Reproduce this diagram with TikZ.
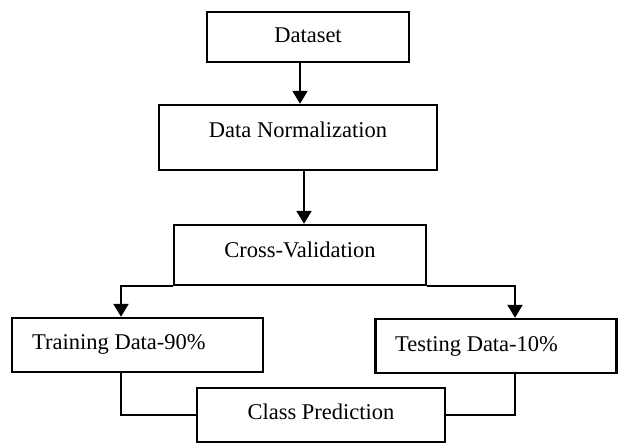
\documentclass[tikz,border=0pt]{standalone}
\usepackage{fontspec}
\setmainfont{Liberation Serif}
\usetikzlibrary{arrows.meta}
\begin{document}
\begin{tikzpicture}[x=1pt,y=-1pt,
  box/.style={draw=black, line width=2.4pt, inner sep=0pt, fill=none},
  lbl/.style={anchor=base, inner sep=0pt, font=\fontsize{22.5}{27}\selectfont},
  lbll/.style={anchor=base west, inner sep=0pt, font=\fontsize{22.5}{27}\selectfont},
  conn/.style={line width=2.1pt},
  arr/.style={line width=2.1pt, -{Triangle[length=13pt,width=15pt]}}]
\useasboundingbox (0,0) rectangle (618,444);
% boxes
\node[box, minimum width=202pt, minimum height=50pt] (ds) at (308,37) {};
\node[box, minimum width=278pt, minimum height=65pt] (dn) at (298,137.5) {};
\node[box, minimum width=252pt, minimum height=60pt] (cv) at (300,255) {};
\node[box, minimum width=251pt, minimum height=54pt] (tr) at (137.5,345) {};
\node[box, minimum width=241pt, minimum height=54pt] (ts) at (496,346) {};
\node[box, minimum width=248pt, minimum height=54pt] (cp) at (321,415) {};
% texts
\node[lbl] (tds) at (308,43) {Dataset};
\node[lbl] (tdn) at (298,137) {Data Normalization};
\node[lbl] (tcv) at (300,257) {Cross-Validation};
\node[lbll] (ttr) at (32,349) {Training Data-90\%};
\node[lbll] (tts) at (395,351) {Testing Data-10\%};
\node[lbl] (tcp) at (321,419) {Class Prediction};
% connector coordinates
\coordinate (a1) at (300,62);
\coordinate (a2) at (304,170);
\coordinate (lx) at (121,0);
\coordinate (rx) at (515,0);
% connectors
\draw[arr] (a1) -- (a1 |- dn.north);
\draw[arr] (a2) -- (a2 |- cv.north);
\draw[arr] (cv.south west) -| (lx |- tr.north);
\draw[arr] (cv.south east) -| (rx |- ts.north);
\draw[conn] (lx |- tr.south) |- (cp.west);
\draw[conn] (rx |- ts.south) |- (cp.east);
\end{tikzpicture}
\end{document}
